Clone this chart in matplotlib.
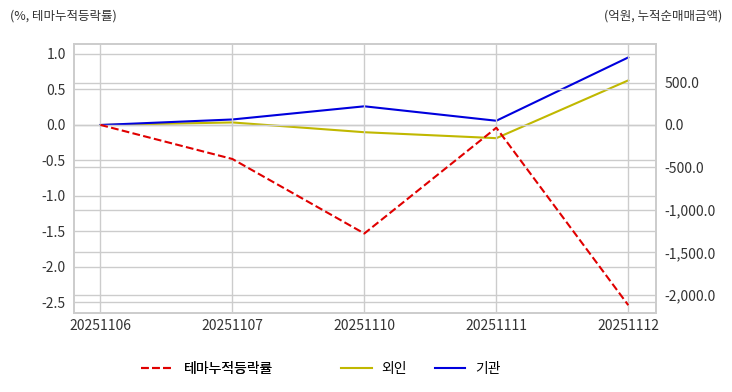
import matplotlib
matplotlib.use("Agg")
import matplotlib.pyplot as plt
from matplotlib.ticker import FuncFormatter, MultipleLocator

plt.rcParams['font.family'] = ['Noto Sans CJK KR', 'DejaVu Sans']
plt.rcParams['axes.unicode_minus'] = False

dates = ["20251106", "20251107", "20251110", "20251111", "20251112"]
theme_ret = [0.0, -0.48, -1.53, -0.04, -2.54]
foreign = [0.0, 30.0, -85.0, -155.0, 525.0]
institution = [0.0, 65.0, 220.0, 50.0, 795.0]

grid_col = "#cccccc"

fig = plt.figure(figsize=(7.32, 3.92), dpi=100)
ax = fig.add_axes([74 / 732, 1 - 313 / 392, (656 - 74) / 732, (313 - 44) / 392])
ax2 = ax.twinx()

x = range(len(dates))
l1, = ax.plot(x, theme_ret, color="#e00000", linestyle="--", linewidth=1.5, label="테마누적등락률")
l2, = ax2.plot(x, foreign, color="#c0b800", linewidth=1.5, label="외인")
l3, = ax2.plot(x, institution, color="#0000dd", linewidth=1.5, label="기관")

ax.set_xlim(-0.2, 4.21)
ax.set_ylim(-2.65, 1.14)
ax2.set_ylim(-2212, 953)
ax.yaxis.set_major_locator(MultipleLocator(0.5))
ax2.set_yticks([-2000, -1500, -1000, -500, 0, 500])
ax.yaxis.set_major_formatter(FuncFormatter(lambda v, p: f"{v:.1f}"))
ax2.yaxis.set_major_formatter(FuncFormatter(lambda v, p: f"{v:,.1f}"))
ax.set_xticks(list(x))
ax.set_xticklabels(dates)

ax.grid(True, color=grid_col, linewidth=1)
ax2.grid(True, axis="y", color=grid_col, linewidth=1)
ax.set_axisbelow(True)
ax2.set_axisbelow(True)
ax.set_zorder(ax2.get_zorder() + 1)
ax.patch.set_visible(False)

for a in (ax, ax2):
    for s in a.spines.values():
        s.set_color(grid_col)
        s.set_linewidth(1.2)
    a.tick_params(length=0, labelsize=10, colors="#333333", pad=6)
ax.tick_params(axis="x", pad=4)

fig.text(10 / 732, 1 - 16 / 392, "(%, 테마누적등락률)", fontsize=9, color="#333333", va="center", ha="left")
fig.text(722 / 732, 1 - 16 / 392, "(억원, 누적순매매금액)", fontsize=9, color="#333333", va="center", ha="right")

# legend split in two to match the uneven spacing of the original
leg1 = fig.legend(handles=[l1], loc="center", bbox_to_anchor=(207 / 732, 1 - 369 / 392),
                  frameon=False, fontsize=10, handlelength=2.2, handletextpad=0.9)
fig.legend(handles=[l2, l3], loc="center", bbox_to_anchor=(421 / 732, 1 - 369 / 392),
           ncol=2, frameon=False, fontsize=10, columnspacing=2.0, handlelength=2.2, handletextpad=0.7)
fig.add_artist(leg1)

fig.savefig("out.png", dpi=100, facecolor="white")
